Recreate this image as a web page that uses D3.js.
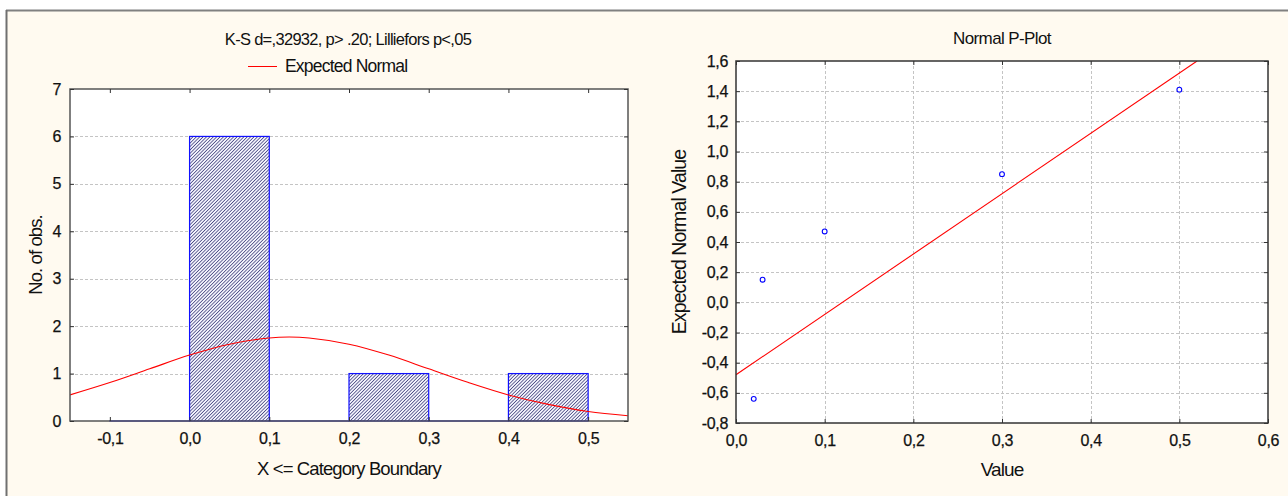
<!DOCTYPE html>
<html><head><meta charset="utf-8">
<script src="https://cdn.jsdelivr.net/npm/d3@7"></script>
<style>
body{margin:0;background:#fff;}
svg{display:block;font-family:"Liberation Sans",Arial,sans-serif;}
</style></head>
<body><svg id="c" width="1288" height="496"></svg>
<script>
// Histogram data
const binStarts = [-0.1, 0.0, 0.1, 0.2, 0.3, 0.4];
const binCounts = [0, 6, 0, 1, 0, 1];
const histXTicks = [-0.1, 0.0, 0.1, 0.2, 0.3, 0.4, 0.5];
const histYTicks = [0, 1, 2, 3, 4, 5, 6, 7];
// Expected normal curve
const curveX = [-0.15, -0.10, -0.05, 0.00, 0.05, 0.10, 0.125, 0.15, 0.20, 0.25, 0.30, 0.35, 0.40, 0.45, 0.50, 0.55];
const curveY = [0.55, 0.81, 1.10, 1.39, 1.62, 1.75, 1.77, 1.75, 1.62, 1.39, 1.10, 0.81, 0.55, 0.35, 0.20, 0.11];
// P-plot data
const pValues = [0.02, 0.03, 0.10, 0.30, 0.50];
const pExpected = [-0.64, 0.15, 0.47, 0.85, 1.41];
const pLineX = [0.0, 0.52];
const pLineY = [-0.48, 1.60];
const pXTicks = [0.0, 0.1, 0.2, 0.3, 0.4, 0.5, 0.6];
const pYTicks = [-0.8, -0.6, -0.4, -0.2, 0.0, 0.2, 0.4, 0.6, 0.8, 1.0, 1.2, 1.4, 1.6];

const fmt1 = d => d3.format(".1f")(d).replace(".", ",").replace("−", "-");
const svg = d3.select("#c");
const TXT = "#111";

svg.append("rect").attr("x",0).attr("y",0).attr("width",1288).attr("height",496).attr("fill","#fff");
svg.append("rect").attr("x",6).attr("y",10).attr("width",1282).attr("height",486).attr("fill","#fffaf0");
svg.append("line").attr("x1",6).attr("x2",1288).attr("y1",10.5).attr("y2",10.5).attr("stroke","#808080").attr("stroke-width",2);
svg.append("line").attr("x1",6.5).attr("x2",6.5).attr("y1",10).attr("y2",496).attr("stroke","#707070").attr("stroke-width",2);

const defs = svg.append("defs");
const pat = defs.append("pattern").attr("id","hatch").attr("patternUnits","userSpaceOnUse")
  .attr("width",2.4).attr("height",2.4).attr("patternTransform","rotate(45)");
pat.append("rect").attr("width",2.4).attr("height",2.4).attr("fill","#f4f4fd");
pat.append("rect").attr("width",0.8).attr("height",2.4).attr("fill","#4c4c84");
defs.append("clipPath").attr("id","clipL").append("rect").attr("x",70).attr("y",89).attr("width",558).attr("height",332);
defs.append("clipPath").attr("id","clipR").append("rect").attr("x",736).attr("y",61).attr("width",532).attr("height",362);

function styleAxis(g){
  g.select(".domain").remove();
  g.selectAll("line").attr("stroke","#333");
  g.selectAll("text").attr("fill",TXT).attr("font-size",16).attr("font-family","Liberation Sans, Arial, sans-serif")
    .attr("letter-spacing","-0.3").attr("stroke",TXT).attr("stroke-width",0.25);
}
function label(x,y,t,opts={}){
  const e = svg.append("text").attr("x",x).attr("y",y).attr("font-size",opts.size||15.5)
    .attr("letter-spacing",opts.ls!==undefined?opts.ls:"-0.5").attr("fill",TXT).text(t);
  if(opts.anchor) e.attr("text-anchor",opts.anchor);
  if(opts.rot) e.attr("x",null).attr("y",null).attr("transform",`translate(${x},${y}) rotate(-90)`);
  return e;
}

// ---------- Left: histogram ----------
const L = {l:70, r:628, t:89, b:421};
const xL = d3.scaleLinear().domain([-0.15, 0.55]).range([L.l, L.r]);
const yL = d3.scaleLinear().domain([0, 7]).range([L.b, L.t]);
const gL = svg.append("g");
gL.append("rect").attr("x",L.l).attr("y",L.t).attr("width",L.r-L.l).attr("height",L.b-L.t).attr("fill","#fff");
gL.selectAll(".gy").data(histYTicks.slice(1,-1)).join("line")
  .attr("x1",L.l).attr("x2",L.r).attr("y1",d=>Math.round(yL(d))+0.5).attr("y2",d=>Math.round(yL(d))+0.5)
  .attr("stroke","#c4c4c4").attr("stroke-dasharray","3,2");
gL.selectAll(".bar").data(binStarts.map((s,i)=>({s, c:binCounts[i]}))).join("rect")
  .attr("x",d=>xL(d.s)).attr("width",d=>xL(d.s+0.1)-xL(d.s))
  .attr("y",d=>yL(d.c)).attr("height",d=>Math.max(0.01,yL(0)-yL(d.c)))
  .attr("fill","url(#hatch)").attr("stroke","#1010ff").attr("stroke-width",1.2);
const curveLine = d3.line().x(d=>xL(d[0])).y(d=>yL(d[1])).curve(d3.curveCatmullRom);
gL.append("path").datum(curveX.map((x,i)=>[x,curveY[i]])).attr("clip-path","url(#clipL)")
  .attr("d",curveLine).attr("fill","none").attr("stroke","#ff0000").attr("stroke-width",1.1);
gL.append("rect").attr("x",L.l).attr("y",L.t).attr("width",L.r-L.l).attr("height",L.b-L.t)
  .attr("fill","none").attr("stroke","#555").attr("stroke-width",1.5);
const axBL = d3.axisBottom(xL).tickValues(histXTicks).tickFormat(fmt1).tickSizeInner(-4).tickSizeOuter(0).tickPadding(12);
const axTL = d3.axisTop(xL).tickValues(histXTicks).tickFormat("").tickSizeInner(-4).tickSizeOuter(0);
const axLL = d3.axisLeft(yL).tickValues(histYTicks).tickFormat(d3.format("d")).tickSizeInner(-4).tickSizeOuter(0).tickPadding(9);
const axRL = d3.axisRight(yL).tickValues(histYTicks).tickFormat("").tickSizeInner(-4).tickSizeOuter(0);
[[axBL,`translate(0,${L.b})`],[axTL,`translate(0,${L.t})`],[axLL,`translate(${L.l},0)`],[axRL,`translate(${L.r},0)`]].forEach(([a,t])=>{
  styleAxis(svg.append("g").attr("transform",t).call(a));
});
label(348,45,"K-S d=,32932, p> .20; Lilliefors p<,05",{anchor:"middle",ls:"-0.7",size:16.5});
svg.append("line").attr("x1",248).attr("x2",277).attr("y1",66.5).attr("y2",66.5).attr("stroke","#ff0000");
label(285,72,"Expected Normal",{ls:"-0.8",size:17.5});
label(349,475,"X <= Category Boundary",{anchor:"middle",ls:"-0.9",size:18.5});
label(42,255,"No. of obs.",{anchor:"middle",rot:true,ls:"-0.9",size:18.5});

// ---------- Right: P-plot ----------
const R = {l:736, r:1268, t:61, b:423};
const xR = d3.scaleLinear().domain([0, 0.6]).range([R.l, R.r]);
const yR = d3.scaleLinear().domain([-0.8, 1.6]).range([R.b, R.t]);
const gR = svg.append("g");
gR.append("rect").attr("x",R.l).attr("y",R.t).attr("width",R.r-R.l).attr("height",R.b-R.t).attr("fill","#fff");
gR.selectAll(".gy").data(pYTicks.slice(1,-1)).join("line")
  .attr("x1",R.l).attr("x2",R.r).attr("y1",d=>Math.round(yR(d))+0.5).attr("y2",d=>Math.round(yR(d))+0.5)
  .attr("stroke","#c4c4c4").attr("stroke-dasharray","3,2");
gR.selectAll(".gx").data(pXTicks.slice(1,-1)).join("line")
  .attr("y1",R.t).attr("y2",R.b).attr("x1",d=>Math.round(xR(d))+0.5).attr("x2",d=>Math.round(xR(d))+0.5)
  .attr("stroke","#c4c4c4").attr("stroke-dasharray","3,2");
gR.append("path").datum(pLineX.map((x,i)=>[x,pLineY[i]])).attr("clip-path","url(#clipR)")
  .attr("d",d3.line().x(d=>xR(d[0])).y(d=>yR(d[1]))).attr("fill","none").attr("stroke","#ff0000").attr("stroke-width",1.1);
gR.selectAll(".pt").data(pValues.map((v,i)=>[v,pExpected[i]])).join("circle")
  .attr("cx",d=>xR(d[0])).attr("cy",d=>yR(d[1])).attr("r",2.4)
  .attr("fill","#fff").attr("stroke","#0000ff").attr("stroke-width",1.1);
gR.append("rect").attr("x",R.l).attr("y",R.t).attr("width",R.r-R.l).attr("height",R.b-R.t)
  .attr("fill","none").attr("stroke","#333").attr("stroke-width",1.5);
const axBR = d3.axisBottom(xR).tickValues(pXTicks).tickFormat(fmt1).tickSizeInner(-4).tickSizeOuter(0).tickPadding(12);
const axTR = d3.axisTop(xR).tickValues(pXTicks).tickFormat("").tickSizeInner(-4).tickSizeOuter(0);
const axLR = d3.axisLeft(yR).tickValues(pYTicks).tickFormat(fmt1).tickSizeInner(-4).tickSizeOuter(0).tickPadding(8);
const axRR = d3.axisRight(yR).tickValues(pYTicks).tickFormat("").tickSizeInner(-4).tickSizeOuter(0);
[[axBR,`translate(0,${R.b})`],[axTR,`translate(0,${R.t})`],[axLR,`translate(${R.l},0)`],[axRR,`translate(${R.r},0)`]].forEach(([a,t])=>{
  styleAxis(svg.append("g").attr("transform",t).call(a));
});
label(1002,44,"Normal P-Plot",{anchor:"middle",ls:"-0.6",size:17});
label(1002,476,"Value",{anchor:"middle",ls:"-0.9",size:19});
label(686,242,"Expected Normal Value",{anchor:"middle",rot:true,ls:"-0.9",size:19.5});
</script></body></html>
